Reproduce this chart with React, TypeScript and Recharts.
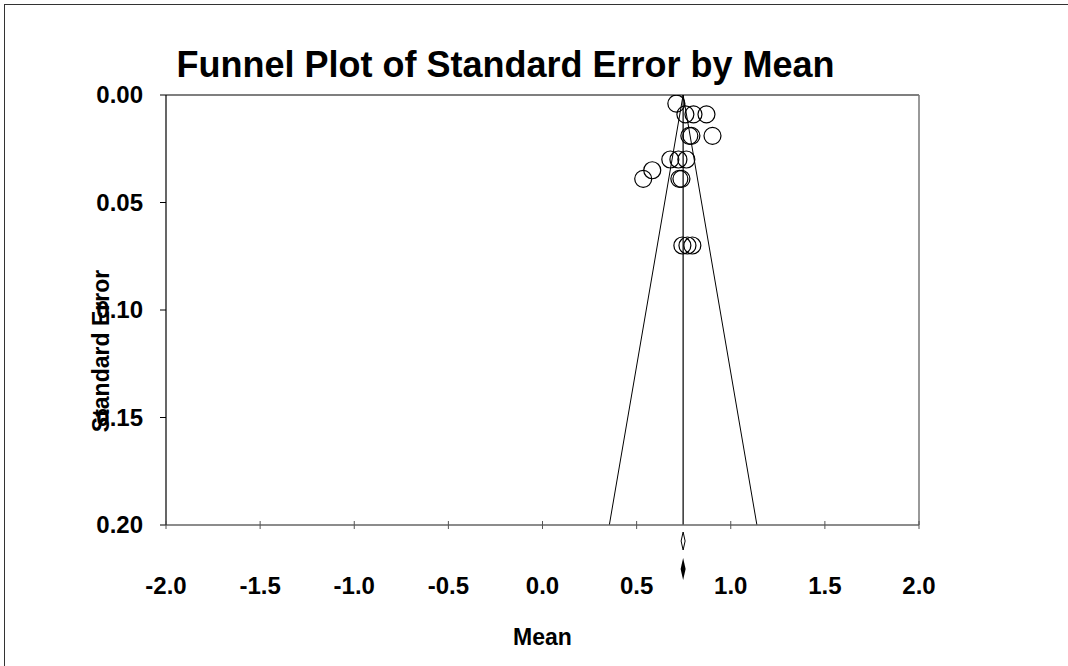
import { ScatterChart, Scatter, XAxis, YAxis, ReferenceLine, ReferenceDot } from 'recharts';

// study-level effects
const studyMeans = [0.711, 0.759, 0.802, 0.871, 0.78, 0.791, 0.903, 0.679, 0.722, 0.764, 0.583, 0.535, 0.727, 0.738, 0.743, 0.77, 0.796];
const studySE = [0.004, 0.009, 0.009, 0.009, 0.019, 0.019, 0.019, 0.03, 0.03, 0.03, 0.035, 0.039, 0.039, 0.039, 0.07, 0.07, 0.07];

const pooledMean = 0.747;
const seMax = 0.2;
const xTicks = [-2, -1.5, -1, -0.5, 0, 0.5, 1, 1.5, 2];
const yTicks = [0, 0.05, 0.1, 0.15, 0.2];

const FONT = '"Liberation Sans", Arial, sans-serif';

const points = studyMeans.map((m, i) => ({ x: m, y: studySE[i] }));

const OpenCircle = (props: any) => {
  const { cx, cy } = props;
  return <circle cx={cx} cy={cy} r={8.5} fill="none" stroke="#000" strokeWidth={1.2} />;
};

const MeanDiamond = (props: any) => {
  const { cx, cy } = props;
  return (
    <g>
      <polygon points={`${cx},${cy + 7} ${cx + 2},${cy + 16} ${cx},${cy + 25} ${cx - 2},${cy + 16}`} fill="none" stroke="#000" strokeWidth={1} />
      <polygon points={`${cx},${cy + 33} ${cx + 2.5},${cy + 44} ${cx},${cy + 55} ${cx - 2.5},${cy + 44}`} fill="#000" />
    </g>
  );
};

const XTick = (props: any) => {
  const { x, y, payload } = props;
  return (
    <g>
      <line x1={x} x2={x} y1={y - 4} y2={y + 4} stroke="#555" strokeWidth={1} />
      <text x={x} y={y + 69} textAnchor="middle" fontFamily={FONT} fontWeight="bold" fontSize={24} fill="#000">
        {Number(payload.value).toFixed(1)}
      </text>
    </g>
  );
};

const YTick = (props: any) => {
  const { x, y, payload } = props;
  return (
    <text x={x} y={y} dy={8} textAnchor="end" fontFamily={FONT} fontWeight="bold" fontSize={24} fill="#000">
      {Number(payload.value).toFixed(2)}
    </text>
  );
};

export default function App() {
  return (
    <div style={{ position: 'absolute', left: 0, top: 0, width: 1068, height: 666, overflow: 'hidden', background: '#fff' }}>
      <div style={{ position: 'absolute', left: 4, top: 4, width: 1100, height: 700, borderLeft: '1.5px solid #333', borderTop: '1.5px solid #333' }} />
      <div style={{ position: 'absolute', left: 0, top: 47, width: 1011, textAlign: 'center', fontFamily: FONT, fontWeight: 'bold', fontSize: 36, lineHeight: '36px', color: '#000' }}>
        Funnel Plot of Standard Error by Mean
      </div>
      <div style={{ position: 'absolute', left: 0, top: 0 }}>
        <ScatterChart width={1068} height={666} margin={{ top: 95, right: 149, bottom: 81, left: 106 }}>
          <XAxis
            type="number"
            dataKey="x"
            domain={[-2, 2]}
            ticks={xTicks}
            allowDataOverflow
            height={60}
            tickSize={0}
            tickMargin={0}
            tickLine={false}
            axisLine={{ stroke: '#666', strokeWidth: 1.5 }}
            tick={<XTick />}
            interval={0}
            label={{
              content: (p: any) => {
                const vb = p.viewBox;
                return (
                  <text x={vb.x + vb.width / 2} y={vb.y + 120} textAnchor="middle" fontFamily={FONT} fontWeight="bold" fontSize={23} fill="#000">
                    Mean
                  </text>
                );
              },
            }}
          />
          <YAxis
            type="number"
            dataKey="y"
            domain={[0, seMax]}
            reversed
            ticks={yTicks}
            allowDataOverflow
            width={60}
            tickSize={6}
            tickMargin={17}
            tickLine={{ stroke: '#000' }}
            axisLine={{ stroke: '#000', strokeWidth: 1.2 }}
            tick={<YTick />}
            interval={0}
            label={{
              content: (p: any) => {
                const vb = p.viewBox;
                const cx = vb.x - 5;
                const cy = vb.y + 256;
                return (
                  <text x={cx} y={cy} transform={`rotate(-90, ${cx}, ${cy})`} textAnchor="middle" dominantBaseline="central" fontFamily={FONT} fontWeight="bold" fontSize={23} fill="#000">
                    Standard Error
                  </text>
                );
              },
            }}
          />
          <ReferenceLine y={0} stroke="#000" strokeWidth={1.2} />
          <ReferenceLine x={2} stroke="#777" strokeWidth={1.5} />
          <ReferenceLine segment={[{ x: pooledMean, y: 0 }, { x: pooledMean, y: seMax }]} stroke="#000" strokeWidth={1.2} />
          <ReferenceLine segment={[{ x: pooledMean, y: 0 }, { x: pooledMean - 1.96 * seMax, y: seMax }]} stroke="#000" strokeWidth={1} />
          <ReferenceLine segment={[{ x: pooledMean, y: 0 }, { x: pooledMean + 1.96 * seMax, y: seMax }]} stroke="#000" strokeWidth={1} />
          <Scatter data={points} shape={<OpenCircle />} isAnimationActive={false} />
          <ReferenceDot x={pooledMean} y={seMax} ifOverflow="visible" shape={(p: any) => <MeanDiamond {...p} />} />
        </ScatterChart>
      </div>
    </div>
  );
}
